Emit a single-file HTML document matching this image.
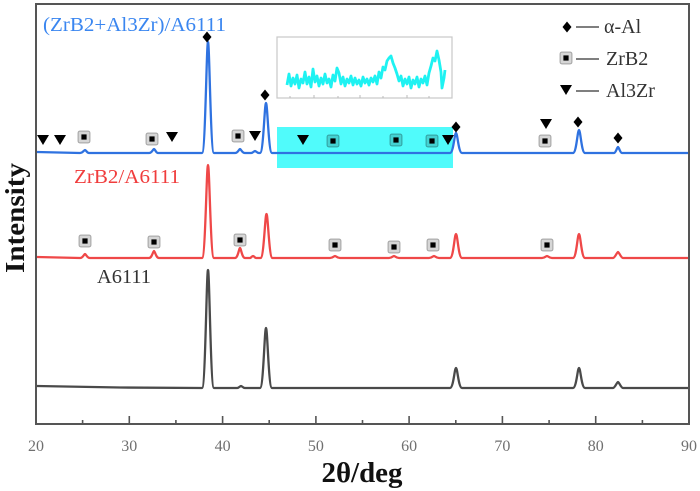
<!DOCTYPE html>
<html>
<head>
<meta charset="utf-8">
<style>
html,body{margin:0;padding:0;background:#fff;}
svg{display:block;}
text{font-family:"Liberation Serif","DejaVu Serif",serif;}
</style>
</head>
<body>
<svg width="700" height="491" viewBox="0 0 700 491" xmlns="http://www.w3.org/2000/svg">
<defs>
  <g id="sq">
    <rect x="-6" y="-6" width="12" height="12" rx="2" ry="2" fill="rgba(0,0,0,0.16)" stroke="rgba(0,0,0,0.3)" stroke-width="1"/>
    <rect x="-2.6" y="-2.6" width="5.2" height="5.2" fill="#000"/>
  </g>
  <path id="tri" d="M-6,-5 L6,-5 L0,5 Z" fill="#000"/>
  <path id="dia" d="M0,-5.5 L4.5,0 L0,5.5 L-4.5,0 Z" fill="#000"/>
</defs>

<!-- cyan highlight -->
<rect x="277" y="127" width="176" height="41" fill="#50fbfb"/>

<!-- inset -->
<rect x="277" y="37" width="175" height="61" fill="#fff" stroke="#c8c8c8" stroke-width="1.2"/>
<g stroke="#bbb" stroke-width="1">
  <line x1="290" y1="98" x2="290" y2="96"/><line x1="314" y1="98" x2="314" y2="95"/>
  <line x1="338" y1="98" x2="338" y2="96"/><line x1="360" y1="98" x2="360" y2="95"/>
  <line x1="383" y1="98" x2="383" y2="96"/><line x1="407" y1="98" x2="407" y2="95"/>
  <line x1="429" y1="98" x2="429" y2="96"/>
</g>
<polyline fill="none" stroke="#1ef2f2" stroke-width="2.8" stroke-linejoin="round" points="287,85 289,74 291,86 293,78 295,84 297,75 299,88 301,79 303,83 305,72 307,84 309,77 311,87 313,69 315,82 317,76 319,86 321,78 323,84 325,74 327,83 329,79 331,87 333,75 335,81 337,68 339,73 341,84 343,77 345,86 347,79 349,83 351,76 353,85 355,78 357,84 359,80 361,86 363,77 365,83 367,79 369,85 371,78 373,82 375,76 377,84 379,72 381,78 383,67 385,70 387,61 389,58 391,56 393,63 395,68 397,74 399,81 401,76 403,86 405,79 407,84 409,77 411,88 413,80 415,84 417,77 419,87 421,79 423,83 425,76 427,85 429,73 431,66 433,58 435,61 437,51 439,60 441,72 442,88 444,78 445,70"/>

<!-- frame -->
<rect x="36" y="4" width="653" height="420" fill="none" stroke="#555" stroke-width="2"/>

<!-- x ticks -->
<g stroke="#555" stroke-width="1.6">
  <line x1="129.3" y1="424" x2="129.3" y2="416"/>
  <line x1="222.6" y1="424" x2="222.6" y2="416"/>
  <line x1="315.9" y1="424" x2="315.9" y2="416"/>
  <line x1="409.1" y1="424" x2="409.1" y2="416"/>
  <line x1="502.4" y1="424" x2="502.4" y2="416"/>
  <line x1="595.7" y1="424" x2="595.7" y2="416"/>
  <line x1="82.6" y1="424" x2="82.6" y2="420"/>
  <line x1="175.9" y1="424" x2="175.9" y2="420"/>
  <line x1="269.2" y1="424" x2="269.2" y2="420"/>
  <line x1="362.5" y1="424" x2="362.5" y2="420"/>
  <line x1="455.8" y1="424" x2="455.8" y2="420"/>
  <line x1="549.1" y1="424" x2="549.1" y2="420"/>
  <line x1="642.4" y1="424" x2="642.4" y2="420"/>
</g>
<g fill="#707070" font-size="16" text-anchor="middle">
  <text x="36" y="451">20</text>
  <text x="129.3" y="451">30</text>
  <text x="222.6" y="451">40</text>
  <text x="315.9" y="451">50</text>
  <text x="409.1" y="451">60</text>
  <text x="502.4" y="451">70</text>
  <text x="595.7" y="451">80</text>
  <text x="689" y="451">90</text>
</g>

<!-- axis titles -->
<text x="362" y="482" font-size="28" font-weight="bold" text-anchor="middle" fill="#111" textLength="81" lengthAdjust="spacingAndGlyphs">2θ/deg</text>
<text transform="translate(24,218) rotate(-90)" font-size="27" font-weight="bold" text-anchor="middle" fill="#111" textLength="110" lengthAdjust="spacingAndGlyphs">Intensity</text>

<!-- black curve -->
<path fill="none" stroke="#4a4a4a" stroke-width="2.3" stroke-linejoin="round" d="M37,386 L120,387.5 L202,388 C205.5,388 206.5,270 208,270 C209.5,270 210.5,388 214,388 L237,388 C239,388 240,386 241,386 C242,386 243,388 245,388 L260,388 C263.5,388 264.5,328 266,328 C267.5,328 268.5,388 272,388 L450,388 C453.5,388 454.5,368 456,368 C457.5,368 458.5,388 462,388 L573,388 C576.5,388 577.5,368 579,368 C580.5,368 581.5,388 585,388 L613,388 C615,388 617,382 618,382 C619,382 621,388 623,388 L688,388"/>

<!-- red curve -->
<path fill="none" stroke="#ef4848" stroke-width="2.3" stroke-linejoin="round" d="M37,257 L80,258 C83,258 84,254 85,254 C86,254 87,258 90,258 L149,258 C152,258 153,251 154,251 C155,251 156,258 159,258 L202,258 C205.5,258 206.5,165 208,165 C209.5,165 210.5,258 214,258 L235,258 C238,258 239,248 240,248 C241,248 242,258 245,258 L250,258 C251,258 252,256 253,256 C254,256 255,258 256,258 L260.5,258 C264,258 265,214 266.5,214 C268,214 269,258 272.5,258 L330,258 C333,258 334,256 335,256 C336,256 337,258 340,258 L389,258 C392,258 393,256 394,256 C395,256 396,258 399,258 L429,258 C432,258 433,256 434,256 C435,256 436,258 439,258 L450,258 C453.5,258 454.5,234 456,234 C457.5,234 458.5,258 462,258 L542,258 C545,258 546,256 547,256 C548,256 549,258 552,258 L573,258 C576.5,258 577.5,234 579,234 C580.5,234 581.5,258 585,258 L613,258 C615,258 617,252 618,252 C619,252 621,258 623,258 L688,258"/>

<!-- blue curve -->
<path fill="none" stroke="#2f72e0" stroke-width="2.3" stroke-linejoin="round" d="M37,152 L80,153 C83,153 84,150 85,150 C86,150 87,153 89,153 L149,153 C152,153 153,149 154,149 C155,149 156,153 158,153 L202,153 C205.5,153 206.5,42 208,42 C209.5,42 210.5,153 214,153 L235,153 C238,153 239,149 240,149 C241,149 242,153 245,153 L251,153 C253,153 254,151 255,151 C256,151 257,153 259,153 L260,153 C263.5,153 264.5,103 266,103 C267.5,103 268.5,153 272,153 L450,153 C453.5,153 454.5,133 456,133 C457.5,133 458.5,153 462,153 L573,153 C576.5,153 577.5,130 579,130 C580.5,130 581.5,153 585,153 L614,153 C616,153 617,147 618,147 C619,147 620,153 622,153 L688,153"/>

<!-- blue markers -->
<use href="#tri" x="43" y="140"/>
<use href="#tri" x="60" y="140"/>
<use href="#tri" x="172" y="137"/>
<use href="#tri" x="255" y="136"/>
<use href="#tri" x="303" y="140"/>
<use href="#tri" x="448" y="140"/>
<use href="#tri" x="546" y="124"/>
<use href="#sq" x="84" y="137"/>
<use href="#sq" x="152" y="139"/>
<use href="#sq" x="238" y="136"/>
<use href="#sq" x="333" y="141"/>
<use href="#sq" x="396" y="140"/>
<use href="#sq" x="432" y="141"/>
<use href="#sq" x="545" y="141"/>
<use href="#dia" x="207" y="37"/>
<use href="#dia" x="265" y="95"/>
<use href="#dia" x="456" y="127"/>
<use href="#dia" x="578" y="122"/>
<use href="#dia" x="618" y="138"/>

<!-- red markers -->
<use href="#sq" x="85" y="241"/>
<use href="#sq" x="154" y="242"/>
<use href="#sq" x="240" y="240"/>
<use href="#sq" x="335" y="245"/>
<use href="#sq" x="394" y="247"/>
<use href="#sq" x="433" y="245"/>
<use href="#sq" x="547" y="245"/>

<!-- series labels -->
<text x="43" y="31" font-size="20" fill="#3a86f0" textLength="183" lengthAdjust="spacingAndGlyphs">(ZrB2+Al3Zr)/A6111</text>
<text x="74" y="183" font-size="20" fill="#f03c3c" textLength="106" lengthAdjust="spacingAndGlyphs">ZrB2/A6111</text>
<text x="97" y="283" font-size="20" fill="#333" textLength="54" lengthAdjust="spacingAndGlyphs">A6111</text>

<!-- legend -->
<use href="#dia" x="567" y="27"/>
<line x1="576" y1="27" x2="599" y2="27" stroke="#333" stroke-width="1.3"/>
<text x="604" y="33" font-size="20" fill="#333">α-Al</text>
<use href="#sq" x="566" y="58"/>
<line x1="576" y1="59" x2="599" y2="59" stroke="#333" stroke-width="1.3"/>
<text x="606" y="65" font-size="20" fill="#333">ZrB2</text>
<use href="#tri" x="566" y="90"/>
<line x1="576" y1="91" x2="599" y2="91" stroke="#333" stroke-width="1.3"/>
<text x="606" y="97" font-size="20" fill="#333">Al3Zr</text>
</svg>
</body>
</html>
